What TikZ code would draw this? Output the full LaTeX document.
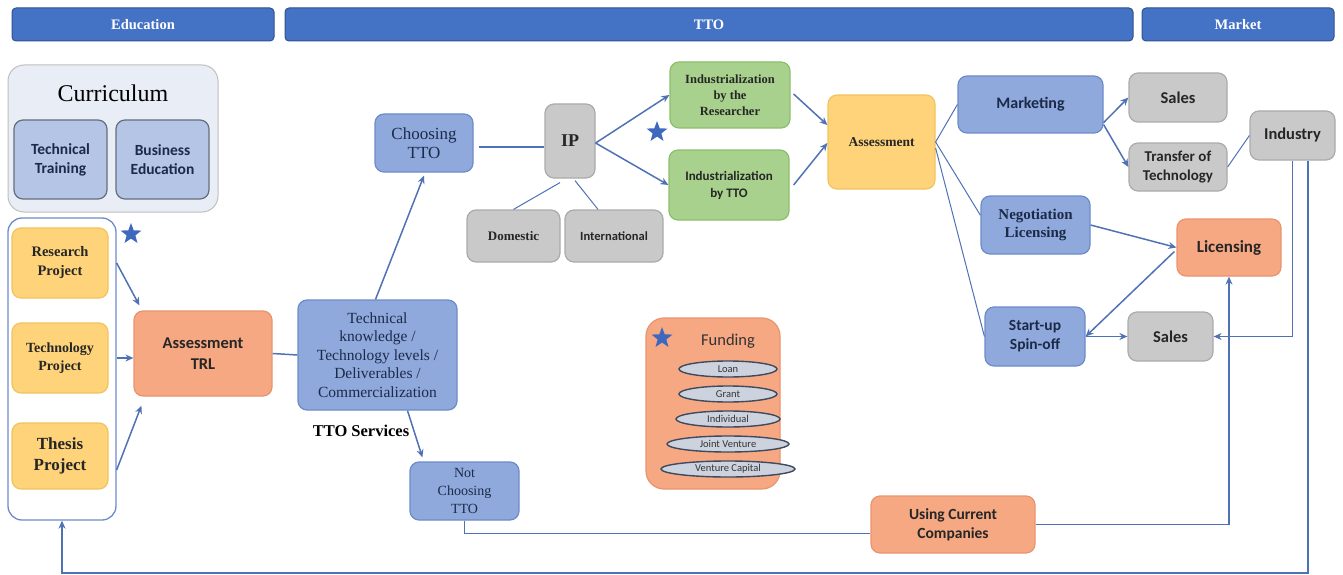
\documentclass[tikz,border=0pt]{standalone}
\usepackage{fontspec}
\setmainfont{Liberation Serif}
\newfontfamily\calfont{Carlito}
\usetikzlibrary{shapes.geometric,arrows.meta,calc}
\definecolor{hdr}{HTML}{4472C4}
\definecolor{hdrd}{HTML}{2F528F}
\definecolor{bfill}{HTML}{8FA9DC}
\definecolor{bdraw}{HTML}{6C8BC9}
\definecolor{lbfill}{HTML}{B4C5E6}
\definecolor{gfill}{HTML}{C9C9C9}
\definecolor{gdraw}{HTML}{ABABAB}
\definecolor{grfill}{HTML}{A9D18E}
\definecolor{grdraw}{HTML}{8CBF6C}
\definecolor{yfill}{HTML}{FFD37A}
\definecolor{ydraw}{HTML}{F2C45E}
\definecolor{sfill}{HTML}{F6A883}
\definecolor{sdraw}{HTML}{E9946E}
\definecolor{conn}{HTML}{4F72B5}
\definecolor{ntext}{HTML}{1C2A48}
\definecolor{efill}{HTML}{CDD3DE}
\definecolor{edraw}{HTML}{3F4A5E}
\definecolor{starc}{HTML}{3E68BE}
\definecolor{currfill}{HTML}{E9EDF6}
\tikzset{
  box/.style={draw, rounded corners=9pt, align=center, inner sep=2pt, line width=1.2pt, font=\bfseries},
  bluebox/.style={box, fill=bfill, draw=bdraw, text=ntext},
  graybox/.style={box, fill=gfill, draw=gdraw, text=black!85},
  greenbox/.style={box, fill=grfill, draw=grdraw, text=black!85},
  goldbox/.style={box, fill=yfill, draw=ydraw, text=black!85},
  salbox/.style={box, fill=sfill, draw=sdraw, text=black!85},
  hdrbox/.style={draw=hdrd, fill=hdr, rounded corners=4pt, text=white, line width=1pt, minimum height=33pt, font=\fontsize{14.5}{16}\selectfont\bfseries},
  conline/.style={draw=conn, line width=1.5pt},
  arr/.style={conline, -{Stealth[length=8pt,width=7pt]}},
  thin/.style={draw=conn, line width=1pt},
  fell/.style={ellipse, draw=edraw, fill=efill, line width=1.4pt, minimum height=16pt, inner sep=0pt, font=\calfont\fontsize{10.5}{11}\selectfont, text=black!80},
  bstar/.style={star, star points=5, star point ratio=2.4, fill=starc, inner sep=0pt, minimum size=22pt},
  sz/.style 2 args={minimum width=#1pt, minimum height=#2pt}
}
\begin{document}
\begin{tikzpicture}[x=1pt, y=-1pt]
\useasboundingbox (0,0) rectangle (1343,575);
% headers
\node[hdrbox, minimum width=262pt] (hEdu) at (143,24.5) {Education};
\node[hdrbox, minimum width=848pt] (hTTO) at (709,24.5) {TTO};
\node[hdrbox, minimum width=192pt] (hMkt) at (1238,24.5) {Market};
% curriculum
\node[draw=gray!50, fill=currfill, rounded corners=16pt, line width=1pt, sz={210}{147}] (curr) at (113,138.5) {};
\node[font=\fontsize{24}{26}\selectfont] (currt) at (113,93) {Curriculum};
\node[box, fill=lbfill, draw=edraw!80, text=ntext, sz={93}{79}, font=\calfont\fontsize{15.5}{19}\selectfont\bfseries] (techtr) at (60.5,159.5) {Technical\\Training};
\node[box, fill=lbfill, draw=edraw!80, text=ntext, sz={93}{79}, font=\calfont\fontsize{15.5}{19}\selectfont\bfseries] (busedu) at (162.5,159.5) {Business\\Education};
% projects
\node[draw=bdraw, fill=white, rounded corners=14pt, line width=1.3pt, sz={108}{302}] (projc) at (62,369) {};
\node[goldbox, sz={96}{70}, font=\fontsize{14.5}{19}\selectfont\bfseries] (resp) at (60,263) {Research\\Project};
\node[goldbox, sz={96}{70}, font=\fontsize{14}{18}\selectfont\bfseries] (tecp) at (60,358) {Technology\\Project};
\node[goldbox, sz={96}{66}, font=\fontsize{17}{21}\selectfont\bfseries] (thep) at (60,456) {Thesis\\Project};
\node[bstar] (star1) at (131,234) {};
\node[salbox, sz={138}{85}, font=\calfont\fontsize{16.5}{21}\selectfont\bfseries] (atrl) at (203,353.5) {Assessment\\TRL};
\node[bluebox, sz={159}{110}, font=\fontsize{15.5}{18.5}\selectfont] (tk) at (377.5,355) {Technical\\knowledge /\\Technology levels /\\Deliverables /\\Commercialization};
\node[font=\fontsize{16.5}{18}\selectfont\bfseries] (tsv) at (361,431) {TTO Services};
\node[bluebox, sz={98}{58}, font=\fontsize{17}{19}\selectfont] (choose) at (424,143) {Choosing\\TTO};
\node[bluebox, sz={109}{58}, font=\fontsize{14}{18}\selectfont] (notch) at (464.5,491) {Not\\Choosing\\TTO};
\node[graybox, sz={50}{74}, font=\fontsize{18}{20}\selectfont\bfseries] (ip) at (570,141) {IP};
\node[graybox, sz={93}{52}, font=\fontsize{13}{15}\selectfont\bfseries] (dom) at (513.5,236) {Domestic};
\node[graybox, sz={98}{52}, font=\calfont\fontsize{12.5}{14}\selectfont\bfseries] (intl) at (614,236) {International};
\node[greenbox, sz={120}{66}, font=\fontsize{12.5}{16}\selectfont\bfseries] (indR) at (730,95) {Industrialization\\by the\\Researcher};
\node[greenbox, sz={120}{70}, font=\calfont\fontsize{13}{17}\selectfont\bfseries] (indT) at (729,185) {Industrialization\\by TTO};
\node[bstar] (star2) at (657,132) {};
\node[goldbox, sz={107}{94}, font=\fontsize{13.5}{15}\selectfont\bfseries] (assess) at (881.5,142) {Assessment};
\node[bluebox, sz={145}{57}, font=\calfont\fontsize{16}{18}\selectfont\bfseries] (mkt) at (1030.5,104.5) {Marketing};
\node[bluebox, sz={109}{58}, font=\fontsize{15}{18}\selectfont\bfseries] (neg) at (1035.5,225) {Negotiation\\Licensing};
\node[bluebox, sz={100}{59}, font=\calfont\fontsize{15.5}{19}\selectfont\bfseries] (start) at (1035,336.5) {Start-up\\Spin-off};
\node[graybox, sz={98}{49}, font=\calfont\fontsize{16.5}{18}\selectfont\bfseries] (sales1) at (1178,97.5) {Sales};
\node[graybox, sz={98}{48}, font=\calfont\fontsize{15}{18.5}\selectfont\bfseries] (tot) at (1178,167) {Transfer of\\Technology};
\node[graybox, sz={85}{49}, font=\calfont\fontsize{16.5}{18}\selectfont\bfseries] (ind) at (1292.5,135.5) {Industry};
\node[salbox, sz={104}{57}, font=\calfont\fontsize{17}{19}\selectfont\bfseries] (lic) at (1229,247.5) {Licensing};
\node[graybox, sz={85}{49}, font=\calfont\fontsize{16.5}{18}\selectfont\bfseries] (sales2) at (1170.5,336.5) {Sales};
\node[salbox, sz={164}{57}, font=\calfont\fontsize{15.5}{19}\selectfont\bfseries] (ucc) at (953,524.5) {Using Current\\Companies};
% funding
\node[salbox, sz={134}{171}, rounded corners=18pt] (fund) at (713,403.5) {};
\node[font=\calfont\fontsize{16.5}{18}\selectfont, text=black!80] (fundt) at (728,341) {Funding};
\node[bstar] (star3) at (662,338) {};
\node[fell, minimum width=98pt] (e1) at (728,369) {Loan};
\node[fell, minimum width=98pt] (e2) at (728,394) {Grant};
\node[fell, minimum width=104pt] (e3) at (728,419) {Individual};
\node[fell, minimum width=122pt] (e4) at (728,444) {Joint Venture};
\node[fell, minimum width=134pt] (e5) at (728,469) {Venture Capital};
% connectors
\draw[arr] (projc.east |- resp.east) -- ($(atrl.north west)+(6,-5)$);
\draw[arr] (projc.east |- tecp.east) -- (atrl.west |- tecp.east);
\draw[arr] ($(projc.east |- thep.east)+(0,14)$) -- ($(atrl.south west)+(8,9)$);
\draw[conline] (atrl.east) -- (tk.west);
\draw[arr] ($(tk.north)+(-2,0)$) -- ($(choose.south)+(0,3)$);
\draw[arr] ($(tk.south)+(30,0)$) -- ($(notch.north west)+(13,-4)$);
\draw[conline] ($(choose.east)+(5,4)$) -- ($(ip.west)+(0,6)$);
\draw[thin] ($(ip.south)+(-10,4)$) -- (dom.north);
\draw[thin] ($(ip.south)+(5,2)$) -- ($(intl.north)+(-16,0)$);
\draw[arr] ($(ip.east)+(0,2)$) -- (indR.west);
\draw[arr] ($(ip.east)+(0,2)$) -- (indT.west);
\draw[arr] ($(indR.east)+(3,-1)$) -- ($(assess.west)+(0,-17)$);
\draw[arr] ($(indT.east)+(4,0)$) -- ($(assess.west)+(0,1)$);
\draw[thin] (assess.east) -- (mkt.west);
\draw[thin] (assess.east) -- (neg.170);
\draw[thin] ($(assess.east)+(0,6)$) -- (start.west);
\draw[arr] ($(mkt.south east)+(0,-11)$) -- (sales1.west);
\draw[arr] ($(mkt.south east)+(0,-9)$) -- (tot.west);
\draw[thin] (tot.east) -- (ind.west);
\draw[arr] (neg.east) -- (lic.west);
\draw[arr] ($(lic.west)+(-2,4)$) -- (start.east);
\draw[arr] (start.east) -- (sales2.west);
\draw[arr] (ind.south) |- (sales2.east);
\coordinate (b1) at (1308,573);
\coordinate (b2) at (62,573);
\draw[arr] (ind.south -| b1) -- (b1) -- (b2) -- (projc.south);
\draw[conline] (notch.south) |- ($(ucc.west)+(0,9)$);
\draw[arr] (ucc.east) -| (lic.south);
\end{tikzpicture}
\end{document}
